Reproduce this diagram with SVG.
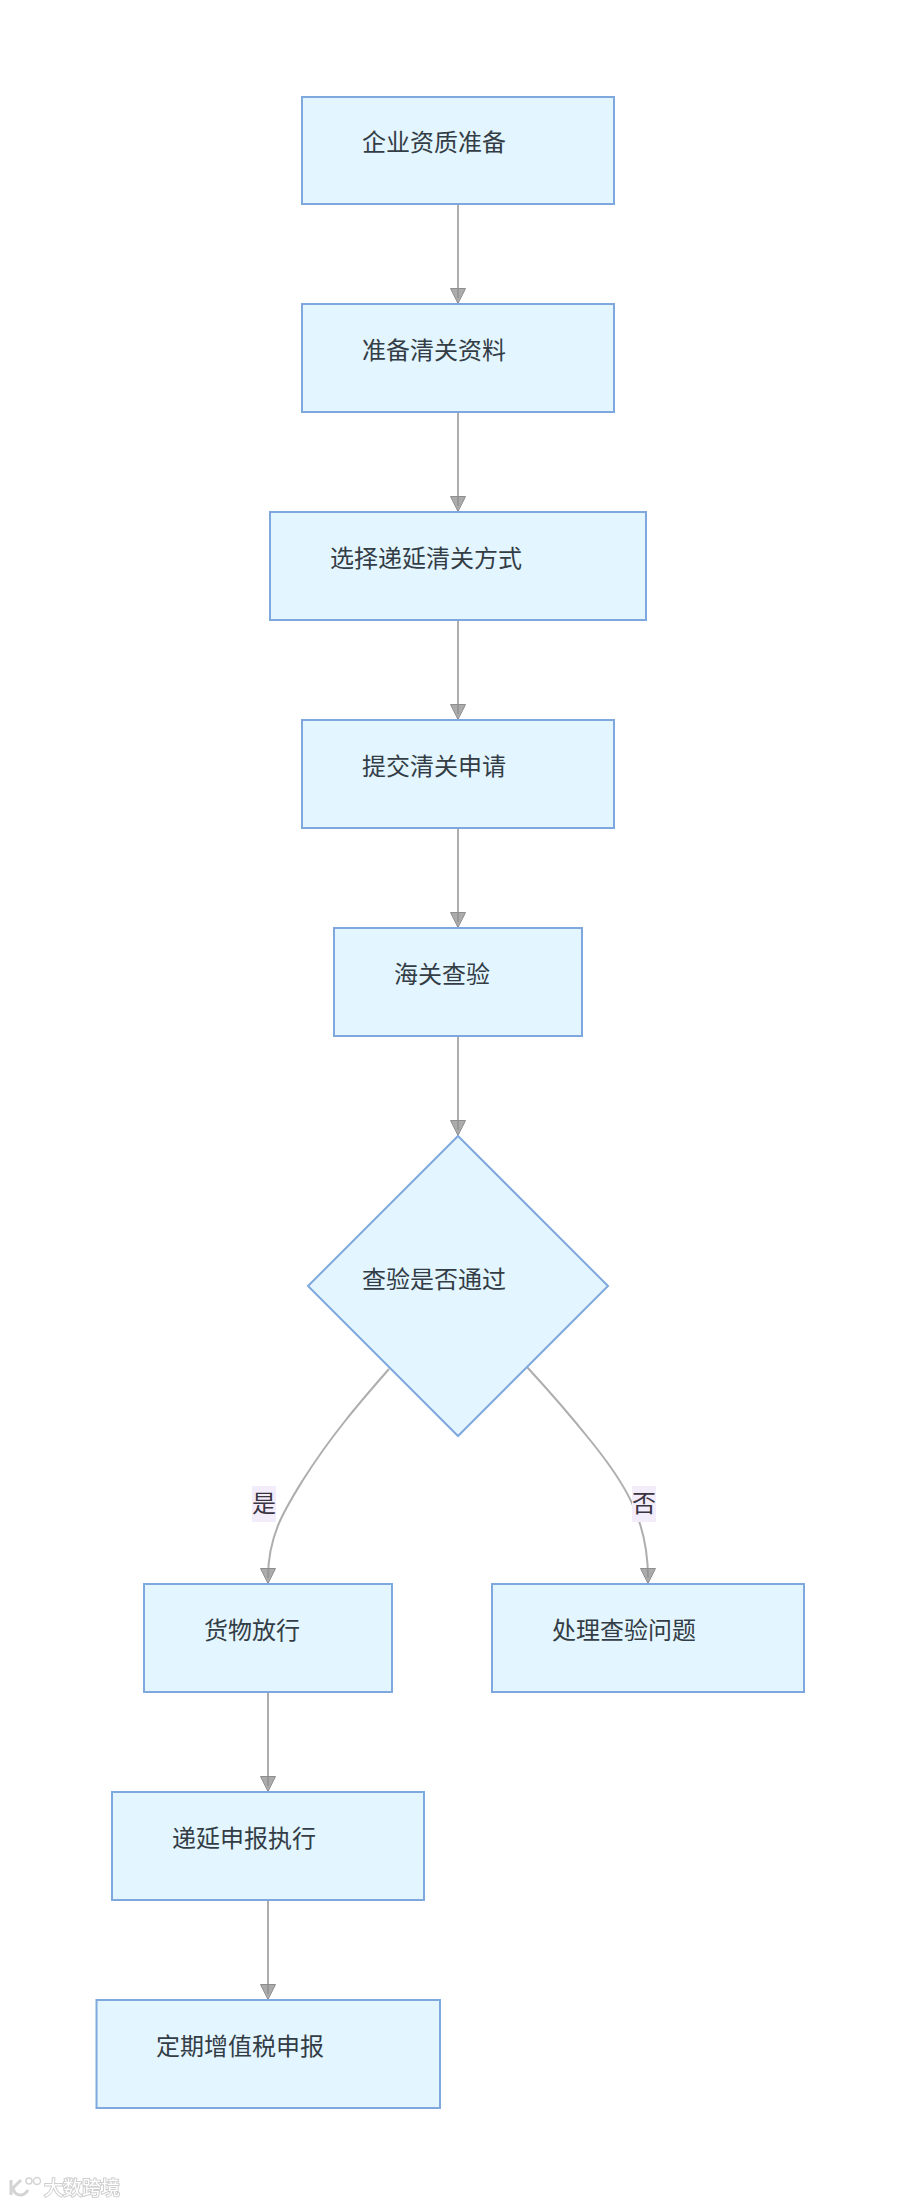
<svg xmlns="http://www.w3.org/2000/svg" width="900" height="2204" viewBox="0 0 900 2204">
<style>
.b{fill:#e3f5ff;stroke:#7fa8de;stroke-width:2}
.t{font:24px "Noto Sans CJK SC","Liberation Sans",sans-serif;fill:#333d45}
.e{fill:none;stroke:#aeaeae;stroke-width:2}
.l{fill:#f2ecfb}
.lt{font:24px "Noto Sans CJK SC","Liberation Sans",sans-serif;fill:#3a3340;text-anchor:middle}
.w{font:19px "Noto Sans CJK SC",sans-serif;fill:#fff;stroke:#cfcfcf;stroke-width:2;paint-order:stroke}
.wl{fill:none;stroke:#d4d4d4}
</style>
<defs>
<marker id="a" markerUnits="userSpaceOnUse" markerWidth="18" markerHeight="18" refX="8" refY="10" orient="0"><path d="M0.5 0.500H15.500L8 15.500Z" fill="#8f8f8f" fill-opacity="0.75" stroke="#8f8f8f" stroke-width="1"/></marker>
<filter id="s" x="-10%" y="-20%" width="120%" height="140%"><feGaussianBlur stdDeviation="0.5"/></filter>
</defs>
<rect width="900" height="2204" fill="#fff"/>
<g id="connectors">
<path class="e" marker-end="url(#a)" d="M458 204V298"/>
<path class="e" marker-end="url(#a)" d="M458 412V506"/>
<path class="e" marker-end="url(#a)" d="M458 620V714"/>
<path class="e" marker-end="url(#a)" d="M458 828V922"/>
<path class="e" marker-end="url(#a)" d="M458 1036V1130"/>
<path class="e" marker-end="url(#a)" d="M389 1369C360 1402 330 1437 303 1480C285 1509 268 1535 268 1578"/>
<path class="e" marker-end="url(#a)" d="M527 1367C550 1392 570 1415 590 1440C625 1483 648 1520 648 1578"/>
<path class="e" marker-end="url(#a)" d="M268 1692V1786"/>
<path class="e" marker-end="url(#a)" d="M268 1900V1994"/>
</g>
<g id="n1"><rect class="b" x="302" y="97" width="312" height="107"/><text class="t" x="362" y="151">企业资质准备</text></g>
<g id="n2"><rect class="b" x="302" y="304" width="312" height="108"/><text class="t" x="362" y="359">准备清关资料</text></g>
<g id="n3"><rect class="b" x="270" y="512" width="376" height="108"/><text class="t" x="330" y="567">选择递延清关方式</text></g>
<g id="n4"><rect class="b" x="302" y="720" width="312" height="108"/><text class="t" x="362" y="775">提交清关申请</text></g>
<g id="n5"><rect class="b" x="334" y="928" width="248" height="108"/><text class="t" x="394" y="983">海关查验</text></g>
<g id="n6"><path class="b" d="M458 1136L608 1286L458 1436L308 1286Z"/><text class="t" x="362" y="1288">查验是否通过</text></g>
<g id="n7"><rect class="b" x="144" y="1584" width="248" height="108"/><text class="t" x="204" y="1639">货物放行</text></g>
<g id="n8"><rect class="b" x="492" y="1584" width="312" height="108"/><text class="t" x="552" y="1639">处理查验问题</text></g>
<g id="n9"><rect class="b" x="112" y="1792" width="312" height="108"/><text class="t" x="172" y="1847">递延申报执行</text></g>
<g id="n10"><rect class="b" x="96.500" y="2000" width="343.500" height="108"/><text class="t" x="156" y="2055">定期增值税申报</text></g>
<g id="edge-labels">
<rect class="l" x="252" y="1486" width="24" height="36"/><text class="lt" x="264" y="1512">是</text>
<rect class="l" x="632" y="1486" width="24" height="36"/><text class="lt" x="644" y="1512">否</text>
</g>
<g id="watermark" filter="url(#s)"><path class="wl" stroke-width="3" d="M11 2180V2195M21 2180L13 2188C15 2197 24 2197 28 2190"/><circle class="wl" stroke-width="1.500" cx="29" cy="2181" r="3"/><circle class="wl" stroke-width="1.500" cx="37" cy="2181" r="3.500"/><text class="w" x="44" y="2195">大数跨境</text></g>
</svg>
